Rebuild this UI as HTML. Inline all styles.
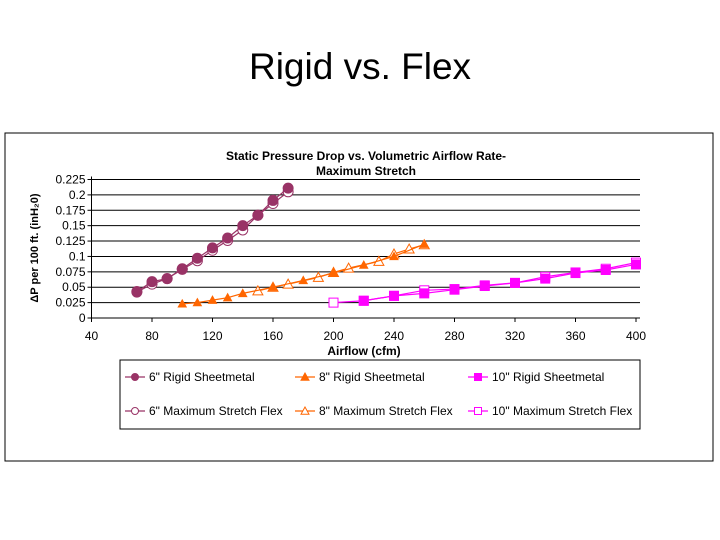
<!DOCTYPE html>
<html><head><meta charset="utf-8"><style>
body{margin:0;background:#fff;width:720px;height:540px;overflow:hidden;font-family:"Liberation Sans",sans-serif;}
</style></head><body>
<div style="position:absolute;left:0;width:720px;top:46px;text-align:center;font-size:37px;color:#000;">Rigid vs. Flex</div>
<svg id="chart" width="720" height="540" style="position:absolute;left:0;top:0" xmlns="http://www.w3.org/2000/svg" font-family="Liberation Sans, sans-serif"></svg>
<script>
const xTicks=[40,80,120,160,200,240,280,320,360,400];
const yTicks=[0,0.025,0.05,0.075,0.1,0.125,0.15,0.175,0.2,0.225];
const yTickLabels=["0","0.025","0.05","0.075","0.1","0.125","0.15","0.175","0.2","0.225"];
const r6x=[70,80,90,100,110,120,130,140,150,160,170];
const r6y=[0.043,0.059,0.064,0.080,0.097,0.114,0.130,0.150,0.167,0.191,0.211];
const f6x=[70,80,90,100,110,120,130,140,150,160,170];
const f6y=[0.042,0.055,0.064,0.079,0.093,0.110,0.126,0.143,0.167,0.186,0.205];
const r8x=[100,110,120,130,140,160,180,200,220,240,260];
const r8y=[0.023,0.025,0.029,0.033,0.040,0.050,0.061,0.073,0.086,0.100,0.120];
const f8x=[150,160,170,190,200,210,230,240,250,260];
const f8y=[0.044,0.050,0.055,0.066,0.074,0.081,0.092,0.104,0.112,0.119];
const r10x=[220,240,260,280,300,320,340,360,380,400];
const r10y=[0.028,0.036,0.040,0.046,0.052,0.057,0.064,0.073,0.078,0.087];
const f10x=[200,220,240,260,280,300,320,340,360,380,400];
const f10y=[0.025,0.028,0.036,0.045,0.047,0.053,0.057,0.067,0.074,0.080,0.090];

const NS="http://www.w3.org/2000/svg";
const svg=document.getElementById('chart');
const X0=91.5,X1=636,Y0=318,Y1=179.5;
const sx=v=>X0+(v-40)/(400-40)*(X1-X0);
const sy=v=>Y0-v/0.225*(Y0-Y1);
function mk(tag,attrs,parent){const e=document.createElementNS(NS,tag);for(const k in attrs)e.setAttribute(k,attrs[k]);(parent||svg).appendChild(e);return e;}

const frame=mk('rect',{x:5,y:133,width:708,height:328,fill:'#fff',stroke:'#000','stroke-width':1});



const t1=mk('text',{x:366,y:160,'text-anchor':'middle','font-size':12,'font-weight':'bold'});
t1.textContent='Static Pressure Drop vs. Volumetric Airflow Rate-';


const t2=mk('text',{x:366,y:175,'text-anchor':'middle','font-size':12,'font-weight':'bold'});
t2.textContent='Maximum Stretch';



yTicks.forEach((v,i)=>{
  if(v>0){const g=mk('line',{x1:X0,x2:640,y1:sy(v),y2:sy(v),stroke:'#000','stroke-width':1});
  
  }
  const tk=mk('line',{x1:X0-4,x2:X0,y1:sy(v),y2:sy(v),stroke:'#000'});
  const l=mk('text',{x:X0-6,y:sy(v)+4,'text-anchor':'end','font-size':12});
  l.textContent=yTickLabels[i];
  
  
});
const xa=mk('line',{x1:X0,x2:640,y1:Y0,y2:Y0,stroke:'#000'});


const ya=mk('line',{x1:X0,x2:X0,y1:Y1-3,y2:Y0,stroke:'#000'});


xTicks.forEach(v=>{
  mk('line',{x1:sx(v),x2:sx(v),y1:Y0,y2:Y0+4,stroke:'#000'});
  const l=mk('text',{x:sx(v),y:Y0+22,'text-anchor':'middle','font-size':12});
  l.textContent=String(v);
  
  
});
const xt=mk('text',{x:364,y:355,'text-anchor':'middle','font-size':12,'font-weight':'bold'});
xt.textContent='Airflow (cfm)';


const yt=mk('text',{x:0,y:0,'text-anchor':'middle','font-size':11,'font-weight':'bold',transform:'translate(38,248) rotate(-90)'});
yt.textContent='ΔP per 100 ft. (inH₂0)';



function marker(shape,filled,color,x,y,s,parent){
  const fill=filled?color:'#fff';
  if(shape==='circle')return mk('circle',{cx:x,cy:y,r:s,fill:fill,stroke:color,'stroke-width':1},parent);
  if(shape==='tri')return mk('polygon',{points:`${x},${y-s} ${x-s},${y+s*0.8} ${x+s},${y+s*0.8}`,fill:fill,stroke:color,'stroke-width':1},parent);
  return mk('rect',{x:x-s,y:y-s,width:2*s,height:2*s,fill:fill,stroke:color,'stroke-width':1},parent);
}
const series=[
 {xs:f6x,ys:f6y,c:'#993366',sh:'circle',f:false,s:5,n:'series-6in-flex'},
 {xs:r6x,ys:r6y,c:'#993366',sh:'circle',f:true,s:5,n:'series-6in-rigid'},
 {xs:f8x,ys:f8y,c:'#ff6600',sh:'tri',f:false,s:5,n:'series-8in-flex'},
 {xs:r8x,ys:r8y,c:'#ff6600',sh:'tri',f:true,s:4,n:'series-8in-rigid'},
 {xs:f10x,ys:f10y,c:'#ff00ff',sh:'sq',f:false,s:4.5,n:'series-10in-flex'},
 {xs:r10x,ys:r10y,c:'#ff00ff',sh:'sq',f:true,s:4.5,n:'series-10in-rigid'}
];
series.forEach(se=>{
  const g=mk('g',{});
  
  
  mk('polyline',{points:se.xs.map((x,i)=>sx(x)+','+sy(se.ys[i])).join(' '),fill:'none',stroke:se.c,'stroke-width':1.2},g);
  se.xs.forEach((x,i)=>{
    const m=marker(se.sh,se.f,se.c,sx(x),sy(se.ys[i]),se.s,g);
    
    
  });
});

const lg=mk('g',{});


mk('rect',{x:120,y:360,width:520,height:69,fill:'#fff',stroke:'#000'},lg);
const legendItems=[
 ['6" Rigid Sheetmetal','#993366','circle',true,135,377],
 ['8" Rigid Sheetmetal','#ff6600','tri',true,305,377],
 ['10" Rigid Sheetmetal','#ff00ff','sq',true,478,377],
 ['6" Maximum Stretch Flex','#993366','circle',false,135,411],
 ['8" Maximum Stretch Flex','#ff6600','tri',false,305,411],
 ['10" Maximum Stretch Flex','#ff00ff','sq',false,478,411]
];
legendItems.forEach(it=>{
  const g=mk('g',{},lg);
  
  
  mk('line',{x1:it[4]-10,x2:it[4]+10,y1:it[5],y2:it[5],stroke:it[1],'stroke-width':1.2},g);
  marker(it[2],it[3],it[1],it[4],it[5],it[2]==='tri'?4:3.5,g);
  const t=mk('text',{x:it[4]+14,y:it[5]+4,'font-size':12},g);
  t.textContent=it[0];
});
</script>
</body></html>
